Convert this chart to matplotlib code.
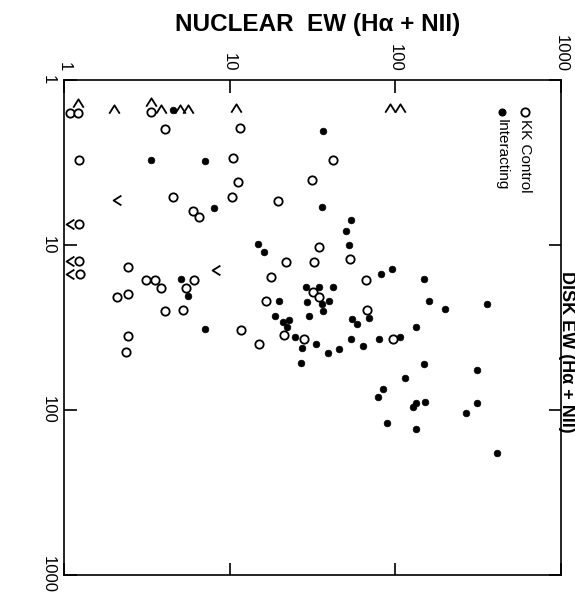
import matplotlib
matplotlib.use("Agg")
import matplotlib.pyplot as plt
from matplotlib.path import Path

plt.rcParams['font.family'] = ['Liberation Sans', 'DejaVu Sans']

# ---- data (nuclear EW, disk EW) ----
kk_nuc = [1.08, 1.22, 3.35, 4.07, 11.5, 1.24, 10.5, 11.2, 4.57, 10.4, 6.03, 6.55,
          1.24, 42.2, 31.4, 19.7, 34.7, 1.24, 1.25, 2.44, 3.11, 3.54, 3.83, 2.08,
          2.42, 6.09, 5.45, 4.07, 5.20, 2.42, 2.36, 11.65, 21.9, 32.3, 53.2, 17.8,
          66.2, 32.0, 34.7, 16.5, 67.1, 21.3, 28.2, 15.1, 97.1]
kk_disk = [1.58, 1.58, 1.56, 1.99, 1.96, 3.05, 2.97, 4.15, 5.10, 5.10, 6.20, 6.79,
           7.46, 3.05, 4.04, 5.41, 10.3, 12.5, 15.0, 13.5, 16.3, 16.3, 18.3, 20.7,
           19.8, 16.3, 18.3, 25.0, 24.8, 35.5, 44.4, 32.7, 12.6, 12.7, 12.2, 15.6,
           16.3, 19.2, 20.7, 21.9, 24.8, 35.1, 37.0, 39.8, 37.1]

int_nuc = [4.57, 3.35, 7.10, 8.04, 36.7, 36.2, 53.7, 50.1, 52.5, 14.9, 16.2, 5.08,
           5.58, 7.10, 82.4, 95.4, 149, 28.9, 34.6, 42.2, 39.7, 36.2, 36.4, 29.4,
           19.9, 18.8, 30.1, 21.1, 22.9, 22.1, 54.5, 58.4, 69.0, 160, 200, 356,
           134, 24.8, 27.4, 33.0, 39.4, 45.7, 54.0, 64.0, 80.0, 106, 26.8, 149,
           312, 114, 84.5, 78.9, 151, 134, 127, 309, 266, 88.6, 133, 412]
int_disk = [1.52, 3.05, 3.10, 5.99, 2.03, 5.91, 7.09, 8.23, 10.0, 9.86, 11.1, 16.1,
            20.3, 32.4, 15.0, 14.0, 16.1, 17.9, 17.9, 17.9, 21.9, 22.9, 25.0, 22.3,
            21.9, 26.8, 26.8, 29.4, 28.5, 31.3, 28.2, 30.1, 27.7, 21.9, 24.5, 22.9,
            31.5, 36.0, 42.3, 39.8, 45.0, 42.9, 37.3, 40.8, 37.3, 35.9, 52.1, 52.9,
            57.3, 63.8, 74.6, 83.8, 89.1, 91.1, 95.5, 91.1, 104, 120, 130, 181]

# upper limits drawn as "^" (disk EW) and "<" (nuclear EW)
up_nuc = [1.22, 2.00, 3.35, 3.83, 5.01, 5.60, 10.9, 92.8, 107]
up_disk = [1.37, 1.50, 1.36, 1.50, 1.50, 1.50, 1.48, 1.48, 1.48]
left_nuc = [2.08, 8.32, 1.09, 1.09, 1.09]
left_disk = [5.34, 14.2, 7.46, 12.5, 15.0]

ticks = [1, 10, 100, 1000]
tick_labels = ['1', '10', '100', '1000']
legend_labels = ['KK Control', 'Interacting']

caret = Path([(-1, -0.8), (0, 0.8), (1, -0.8)], [Path.MOVETO, Path.LINETO, Path.LINETO])
lt = Path([(0.8, 1), (-0.8, 0), (0.8, -1)], [Path.MOVETO, Path.LINETO, Path.LINETO])

fig = plt.figure(figsize=(5.75, 5.95), dpi=100)
ax = fig.add_axes([64/575, 1-575/595, (561-64)/575, (575-80)/595])
ax.set_xscale('log')
ax.set_yscale('log')
ax.set_xlim(1, 1000)
ax.set_ylim(1000, 1)

ax.plot(kk_nuc, kk_disk, 'o', ms=6.0, mfc='white', mec='black', mew=1.3, ls='none', zorder=3)
ax.plot(int_nuc, int_disk, 'o', ms=4.8, mfc='black', mec='black', mew=0.5, ls='none', zorder=4)
ax.plot(up_nuc, up_disk, marker=caret, ms=7.5, mfc='none', mec='black', mew=1.3, ls='none')
ax.plot(left_nuc, left_disk, marker=lt, ms=7.0, mfc='none', mec='black', mew=1.3, ls='none')

ax.xaxis.tick_top()
ax.set_xticks(ticks)
ax.set_xticklabels(tick_labels, rotation=-90, fontsize=12)
ax.set_yticks(ticks)
ax.set_yticklabels(tick_labels, rotation=-90, fontsize=12, va='center')
ax.minorticks_off()
ax.tick_params(axis='both', which='major', direction='in', length=9, width=1.2,
               top=True, bottom=True, left=True, right=True,
               labeltop=True, labelbottom=False, labelleft=True, labelright=False, pad=6)
for s in ax.spines.values():
    s.set_linewidth(1.2)

# legend (rotated)
lx1, lx2 = (525 - 64) / 497, (502 - 64) / 497
ly = 1 - (112 - 80) / 495
ax.plot([lx1], [ly], 'o', ms=6.0, mfc='white', mec='black', mew=1.3, transform=ax.transAxes, clip_on=False)
ax.plot([lx2], [ly], 'o', ms=4.8, mfc='black', mec='black', transform=ax.transAxes, clip_on=False)
ax.text(lx1, 1 - (119 - 80) / 495, legend_labels[0], rotation=-90, ha='center', va='top',
        fontsize=11, transform=ax.transAxes)
ax.text(lx2, 1 - (119 - 80) / 495, legend_labels[1], rotation=-90, ha='center', va='top',
        fontsize=11, transform=ax.transAxes)

fig.text(318/575, 1 - 25/595, 'NUCLEAR  EW (H\u03b1 + NII)', ha='center', va='center',
         fontsize=17.5, fontweight='bold')
fig.text(574.5/575, 1 - 352/595, 'DISK EW (H\u03b1 + NII)', ha='right', va='center',
         fontsize=13, fontweight='bold', rotation=-90)

fig.savefig('out.png', dpi=100)
